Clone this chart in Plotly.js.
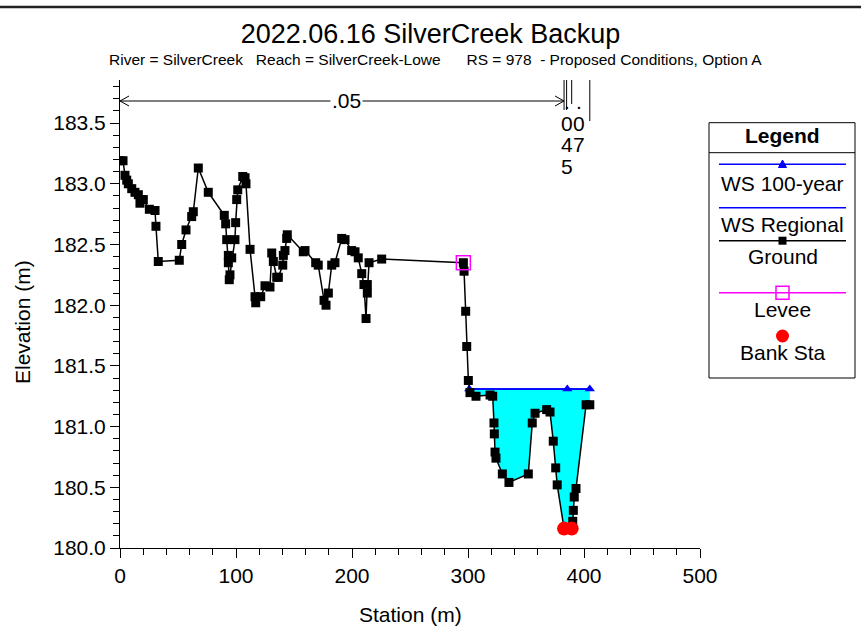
<!DOCTYPE html>
<html>
<head>
<meta charset="utf-8">
<script src="https://cdn.plot.ly/plotly-3.0.1.min.js"></script>
<style>html,body{margin:0;padding:0;background:#fff;}#chart{width:861px;height:626px;}</style>
</head>
<body>
<div id="chart"></div>
<script>
// ---------------- DATA ----------------
const groundStation = [0, 2.6, 4.3, 5.8, 7.2, 10.1, 12.9, 15.8, 17.2, 18.7, 20.1, 25.3, 30.2, 31.0, 33.0,
  51.1, 53.2, 56.9, 61.8, 63.2, 67.5, 76.1, 89.9, 91.1, 92.0, 93.4, 93.4, 94.2, 94.8, 96.3, 99.1, 99.7,
  100.6, 101.5, 105.8, 107.8, 108.6, 112.1, 116.4, 117.0, 121.3, 125.0, 129.3, 130.8, 132.2, 135.1, 136.5,
  140.3, 140.8, 142.2, 143.7, 144.2, 158.0, 159.5, 168.7, 170.9, 175.9, 177.6, 179.6, 182.5, 185.3, 191.1,
  194.0, 199.7, 202.6, 205.4, 208.4, 210.3, 212.1, 213.2, 213.2, 214.7, 225.6, 296.0, 296.6, 298.0, 298.9,
  300.3, 301.7, 306.9, 319.0, 321.3, 322.4, 322.7, 323.3, 324.1, 329.6, 335.3, 352.0, 355.4, 357.8, 367.8,
  370.7, 373.5, 375.6, 376.9, 382.8, 389.4, 390.3, 390.8, 391.6, 393.1, 401.8, 405.0];
const groundElev = [183.19, 183.19, 183.07, 183.03, 183.00, 182.96, 182.93, 182.91, 182.84, 182.87, 182.87, 182.79, 182.78, 182.65, 182.36,
  182.37, 182.50, 182.62, 182.73, 182.77, 183.13, 182.93, 182.74, 182.67, 182.54, 182.41, 182.35, 182.21, 182.25, 182.39, 182.54, 182.68,
  182.87, 182.95, 183.06, 183.05, 183.00, 182.46, 182.07, 182.02, 182.07, 182.16, 182.15, 182.43, 182.36, 182.23, 182.23,
  182.33, 182.41, 182.45, 182.55, 182.58, 182.44, 182.45, 182.35, 182.33, 182.04, 182.00, 182.10, 182.33, 182.35, 182.55,
  182.54, 182.45, 182.44, 182.39, 182.26, 182.17, 181.89, 182.17, 182.10, 182.35, 182.38, 182.35, 182.28, 181.95, 181.66,
  181.38, 181.28, 181.25, 181.26, 181.25, 181.03, 180.94, 180.79, 180.74, 180.61, 180.54, 180.61, 181.03, 181.11, 181.14,
  181.12, 180.88, 180.66, 180.52, 180.16, 180.16, 180.22, 180.31, 180.42, 180.49, 181.18, 181.18];

const ws100Station = [301.1, 385.6, 405.0];
const ws100Elev = [181.31, 181.31, 181.31];
const wsRegStation = [301.1, 405.0];
const wsRegElev = [181.31, 181.31];
const leveeStation = [296.0];
const leveeElev = [182.35];
const bankStation = [382.8, 389.4];
const bankElev = [180.16, 180.16];

const nValueLabels = ['.05', '.045', '.07'];
const nBreakStations = [0, 382.8, 389.4, 405.0];

const seriesNames = ['WS 100-year', 'WS Regional', 'Ground', 'Levee', 'Bank Sta'];

const titleText = '2022.06.16 SilverCreek Backup';
const subtitleText = 'River = SilverCreek\u00a0\u00a0\u00a0Reach = SilverCreek-Lowe\u00a0\u00a0\u00a0\u00a0\u00a0\u00a0RS = 978\u00a0\u00a0- Proposed Conditions, Option A';
const xTitle = 'Station (m)';
const yTitle = 'Elevation (m)';

// ---------------- LAYOUT HELPERS ----------------
const FONT = 'Liberation Sans, Arial, sans-serif';
const FS = 21;
const W = 861, H = 626;
const PL = 120, PR = 700, PT = 80, PB = 548;
const px2x = p => (p - PL) / (PR - PL);
const py2y = p => (PB - p) / (PB - PT);
const ann = (o) => Object.assign({ showarrow: false, xanchor: 'center', yanchor: 'middle', font: { family: FONT, size: FS, color: '#000' } }, o);

// water fill polygon built from ground data between WS ends
const wsLeft = ws100Station[0], wsRight = ws100Station[ws100Station.length - 1], wsLevel = ws100Elev[0];
const fillX = [wsLeft], fillY = [wsLevel];
groundStation.forEach((s, i) => { if (s > wsLeft && s <= wsRight) { fillX.push(s); fillY.push(groundElev[i]); } });
fillX.push(wsRight); fillY.push(wsLevel);

const traces = [
  { x: fillX, y: fillY, mode: 'lines', fill: 'toself', fillcolor: '#00FFFF', line: { width: 0, color: 'rgba(0,0,0,0)' }, hoverinfo: 'skip', showlegend: false },
  { x: wsRegStation, y: wsRegElev, mode: 'lines', line: { color: '#0000FF', width: 1.5 }, name: seriesNames[1], showlegend: false },
  { x: ws100Station, y: ws100Elev, mode: 'lines+markers', line: { color: '#0000FF', width: 1.5 }, marker: { symbol: 'triangle-up', size: 9, color: '#0000FF' }, name: seriesNames[0], showlegend: false },
  { x: groundStation, y: groundElev, mode: 'lines+markers', line: { color: '#000000', width: 1.5 }, marker: { symbol: 'square', size: 9, color: '#000000' }, name: seriesNames[2], showlegend: false },
  { x: leveeStation, y: leveeElev, mode: 'markers', marker: { symbol: 'square-open', size: 14, color: '#FF00FF', line: { width: 1.5, color: '#FF00FF' } }, name: seriesNames[3], showlegend: false },
  { x: bankStation, y: bankElev, mode: 'markers', marker: { symbol: 'circle', size: 14, color: '#FF0000' }, name: seriesNames[4], showlegend: false }
];

const shapes = [];
const annotations = [];

// top frame line
shapes.push({ type: 'line', xref: 'paper', yref: 'paper', x0: px2x(0), x1: px2x(W), y0: py2y(7), y1: py2y(7), line: { color: '#222', width: 2.5 } });

// n-value arrow (.05) from first to second break
const arrowY = py2y(101);
const dx = 9 / ((PR - PL) / 500), dy = 5 / (PB - PT);
shapes.push({ type: 'line', xref: 'x', yref: 'paper', x0: nBreakStations[0], x1: nBreakStations[1], y0: arrowY, y1: arrowY, line: { color: '#000', width: 1 } });
shapes.push({ type: 'path', xref: 'x', yref: 'paper', path: `M ${nBreakStations[0] + dx} ${arrowY + dy} L ${nBreakStations[0]} ${arrowY} L ${nBreakStations[0] + dx} ${arrowY - dy}`, line: { color: '#000', width: 1 } });
shapes.push({ type: 'path', xref: 'x', yref: 'paper', path: `M ${nBreakStations[1] - dx} ${arrowY + dy} L ${nBreakStations[1]} ${arrowY} L ${nBreakStations[1] - dx} ${arrowY - dy}`, line: { color: '#000', width: 1 } });
annotations.push(ann({ x: (nBreakStations[0] + nBreakStations[1]) / 2 + 4, xref: 'x', y: arrowY, yref: 'paper', text: nValueLabels[0], bgcolor: '#fff', borderpad: 1 }));

// break lines
shapes.push({ type: 'line', xref: 'x', yref: 'paper', x0: nBreakStations[1], x1: nBreakStations[1], y0: 1, y1: py2y(110), line: { color: '#000', width: 1 } });
shapes.push({ type: 'line', xref: 'x', yref: 'paper', x0: nBreakStations[1] + 2.2, x1: nBreakStations[1] + 2.2, y0: 1, y1: py2y(110), line: { color: '#000', width: 1 } });
shapes.push({ type: 'line', xref: 'x', yref: 'paper', x0: nBreakStations[2], x1: nBreakStations[2], y0: 1, y1: py2y(104), line: { color: '#000', width: 1 } });
shapes.push({ type: 'line', xref: 'x', yref: 'paper', x0: nBreakStations[3], x1: nBreakStations[3], y0: 1, y1: py2y(121), line: { color: '#000', width: 1 } });

// narrow n-value labels (wrapped character by character)
const charRowY = [101.6, 123.3, 145, 166.7];
[[nValueLabels[1], (nBreakStations[1] + nBreakStations[2]) / 2 - 0.8], [nValueLabels[2], (nBreakStations[2] + nBreakStations[3]) / 2 - 1.8]].forEach(([lab, xs]) => {
  lab.split('').forEach((ch, k) => {
    annotations.push(ann({ x: xs, xref: 'x', y: py2y(charRowY[k]), yref: 'paper', text: ch }));
  });
});

// subtitle
annotations.push(ann({ x: px2x(435), xref: 'paper', y: py2y(60), yref: 'paper', text: subtitleText, font: { family: FONT, size: 15.5, color: '#000' } }));
// axis titles
annotations.push(ann({ x: px2x(410), xref: 'paper', y: py2y(614), yref: 'paper', text: xTitle }));
annotations.push(ann({ x: px2x(22), xref: 'paper', y: py2y(322), yref: 'paper', text: yTitle, textangle: -90 }));

// ---------------- CUSTOM LEGEND ----------------
const LX0 = 709, LX1 = 855, LY0 = 122.7, LY1 = 378, LC = 782.5;
const rectPx = (x0, y0, x1, y1, opts) => Object.assign({ type: 'rect', xref: 'paper', yref: 'paper', x0: px2x(x0), x1: px2x(x1), y0: py2y(y1), y1: py2y(y0) }, opts);
const linePx = (x0, y0, x1, y1, color) => ({ type: 'line', xref: 'paper', yref: 'paper', x0: px2x(x0), x1: px2x(x1), y0: py2y(y0), y1: py2y(y1), line: { color: color, width: 1.5 } });
shapes.push(rectPx(LX0, LY0, LX1, LY1, { line: { color: '#000', width: 1 }, fillcolor: '#fff', layer: 'above' }));
shapes.push({ type: 'line', xref: 'paper', yref: 'paper', x0: px2x(LX0), x1: px2x(LX1), y0: py2y(152.7), y1: py2y(152.7), line: { color: '#000', width: 1 } });
annotations.push(ann({ x: px2x(LC), xref: 'paper', y: py2y(135), yref: 'paper', text: '<b>Legend</b>' }));

const sampleX0 = 719, sampleX1 = 846;
// WS 100-year
shapes.push(linePx(sampleX0, 164.3, sampleX1, 164.3, '#0000FF'));
shapes.push({ type: 'path', xref: 'paper', yref: 'paper', path: `M ${px2x(LC - 4)} ${py2y(167.5)} L ${px2x(LC + 4)} ${py2y(167.5)} L ${px2x(LC)} ${py2y(160)} Z`, fillcolor: '#0000FF', line: { color: '#0000FF', width: 1 } });
// WS Regional
shapes.push(linePx(sampleX0, 207.7, sampleX1, 207.7, '#0000FF'));
// Ground
shapes.push(linePx(sampleX0, 240.7, sampleX1, 240.7, '#000000'));
shapes.push(rectPx(LC - 4, 236.7, LC + 4, 244.7, { fillcolor: '#000', line: { color: '#000', width: 0 } }));
// Levee
shapes.push(linePx(sampleX0, 292.7, sampleX1, 292.7, '#FF00FF'));
shapes.push(rectPx(LC - 6.5, 286.2, LC + 6.5, 299.2, { fillcolor: 'rgba(0,0,0,0)', line: { color: '#FF00FF', width: 1.5 } }));
// Bank Sta
shapes.push({ type: 'circle', xref: 'paper', yref: 'paper', x0: px2x(LC - 6.5), x1: px2x(LC + 6.5), y0: py2y(342.5), y1: py2y(329.5), fillcolor: '#FF0000', line: { color: '#FF0000', width: 0 } });

const legendTextY = [183, 224.5, 256, 309.5, 353];
seriesNames.forEach((n, i) => {
  annotations.push(ann({ x: px2x(LC), xref: 'paper', y: py2y(legendTextY[i]), yref: 'paper', text: n }));
});

const layout = {
  width: W, height: H, autosize: false,
  margin: { l: PL, r: W - PR, t: PT, b: H - PB, pad: 0 },
  paper_bgcolor: '#fff', plot_bgcolor: '#fff',
  showlegend: false,
  font: { family: FONT, color: '#000' },
  title: { text: titleText, font: { family: FONT, size: 27, color: '#000' }, xref: 'container', x: 0.5, xanchor: 'center', yref: 'container', y: 1 - 34 / H, yanchor: 'middle' },
  xaxis: {
    range: [0, 500], tick0: 0, dtick: 100, showgrid: false, zeroline: false,
    showline: true, linecolor: '#000', linewidth: 1,
    ticks: 'outside', ticklen: 9, tickcolor: '#000', tickwidth: 1,
    minor: { dtick: 20, ticks: 'outside', ticklen: 6, tickcolor: '#000', showgrid: false },
    tickfont: { family: FONT, size: FS, color: '#000' }
  },
  yaxis: {
    range: [180, 183.855], tick0: 180, dtick: 0.5, tickformat: '.1f', showgrid: false, zeroline: false,
    showline: true, linecolor: '#000', linewidth: 1,
    ticks: 'outside', ticklen: 9, tickcolor: '#000', tickwidth: 1,
    minor: { dtick: 0.1, ticks: 'outside', ticklen: 6, tickcolor: '#000', showgrid: false },
    tickfont: { family: FONT, size: FS, color: '#000' }
  },
  shapes: shapes,
  annotations: annotations
};

Plotly.newPlot('chart', traces, layout, { staticPlot: true, displayModeBar: false });
</script>
</body>
</html>
